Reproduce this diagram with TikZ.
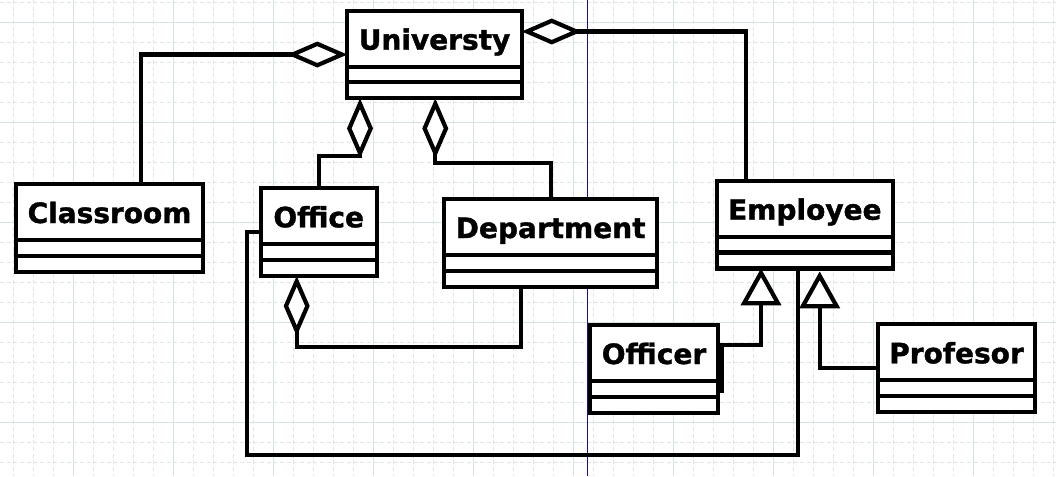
\documentclass[tikz,border=0pt]{standalone}
\usepackage{fontspec}
\setmainfont{DejaVu Sans}
\newfontfamily\classfont{DejaVu Sans}[BoldFeatures={FakeBold=1.3}]
\usetikzlibrary{calc}
\usetikzlibrary{arrows.meta}
\definecolor{gridminor}{RGB}{224,229,229}
\definecolor{gridmajor}{RGB}{212,228,224}
\definecolor{guide}{RGB}{20,20,150}
\tikzset{
    classbox/.style = {draw, rectangle, fill=white, line width=4.2pt,
        minimum height=87.7pt, inner sep=0pt, outer sep=0pt,
        anchor=north west,
        font=\classfont\fontsize{28pt}{32pt}\selectfont\bfseries,
        text height=20pt, text depth=29.7pt, % puts the name in the top part
        path picture={
            \draw[line width=4.2pt] ([yshift=-56pt]path picture bounding box.north west) -- ([yshift=-56pt]path picture bounding box.north east);
            \draw[line width=4.2pt] ([yshift=-71.7pt]path picture bounding box.north west) -- ([yshift=-71.7pt]path picture bounding box.north east);
        }},
    link/.style = {draw, line width=4.2pt},
    aggr/.style = {link, -{Diamond[open, fill=white, length=60pt, width=26pt]}},
    inherit/.style = {link, -{Triangle[open, fill=white, length=37pt, width=40pt]}},
    minorline/.style = {gridminor, line width=1pt, dash pattern=on 4pt off 2.67pt},
    majorline/.style = {gridmajor, line width=1pt}
}

\begin{document}
\begin{tikzpicture}[x=1pt, y=-1pt]
    \useasboundingbox (0,0) rectangle (1056,476);
    % background grid
    \foreach \x in {13.3,33.3,...,1053.3}
        \draw[minorline] (\x,0) -- (\x,476);
    \foreach \y in {2.3,22.3,...,462.3}
        \draw[minorline] (0,\y) -- (1056,\y);
    \foreach \x in {73.3,173.3,...,973.3}
        \draw[majorline] (\x,0) -- (\x,476);
    \foreach \y in {22.3,122.3,...,422.3}
        \draw[majorline] (0,\y) -- (1056,\y);
    \draw[guide, line width=1pt] (587.7,0) -- (587.7,476);

    % classes
    \node [classbox, minimum width=174.4pt] (univ) at (347.3,10.7) {Universty};
    \node [classbox, minimum width=187.6pt] (classroom) at (15.7,184) {Classroom};
    \node [classbox, minimum width=116pt] (office) at (260.7,188.3) {Office};
    \node [classbox, minimum width=213.3pt] (dept) at (444,199) {Department};
    \node [classbox, minimum width=176.3pt] (employee) at (716.7,180.7) {Employee};
    \node [classbox, minimum width=128pt] (officer) at (590,325) {Officer};
    \node [classbox, minimum width=157pt] (profesor) at (878,324.3) {Profesor};

    % aggregations
    \draw [aggr] ([xshift=31.3pt]classroom.north) |- (univ.west);
    \draw [aggr] (office.north) -- ++(0,-32.6) -| ([xshift=12.7pt]univ.south west);
    \draw [aggr] (dept.north) -- ++(0,-36.3) -| ([xshift=88pt]univ.south west);
    \draw [aggr] ([xshift=29.3pt]employee.north west) |- ([yshift=-20.8pt]univ.north east);
    \draw [aggr] ([xshift=76.7pt]dept.south west) -- ++(0,60) -| ([xshift=36pt]office.south west);
    % association
    \draw [link] (office.west) -- ++(-14,0) -- ++(0,223) -| ([xshift=81.6pt]employee.south west);
    % generalizations
    \draw [inherit] ([xshift=3.7pt,yshift=19.7pt]officer.south east) -- ([xshift=3.7pt,yshift=-20pt]officer.north east) -| ([xshift=44.3pt]employee.south west);
    \draw [inherit] (profesor.west) -| ([xshift=103pt,yshift=-3pt]employee.south west);
\end{tikzpicture}
\end{document}
